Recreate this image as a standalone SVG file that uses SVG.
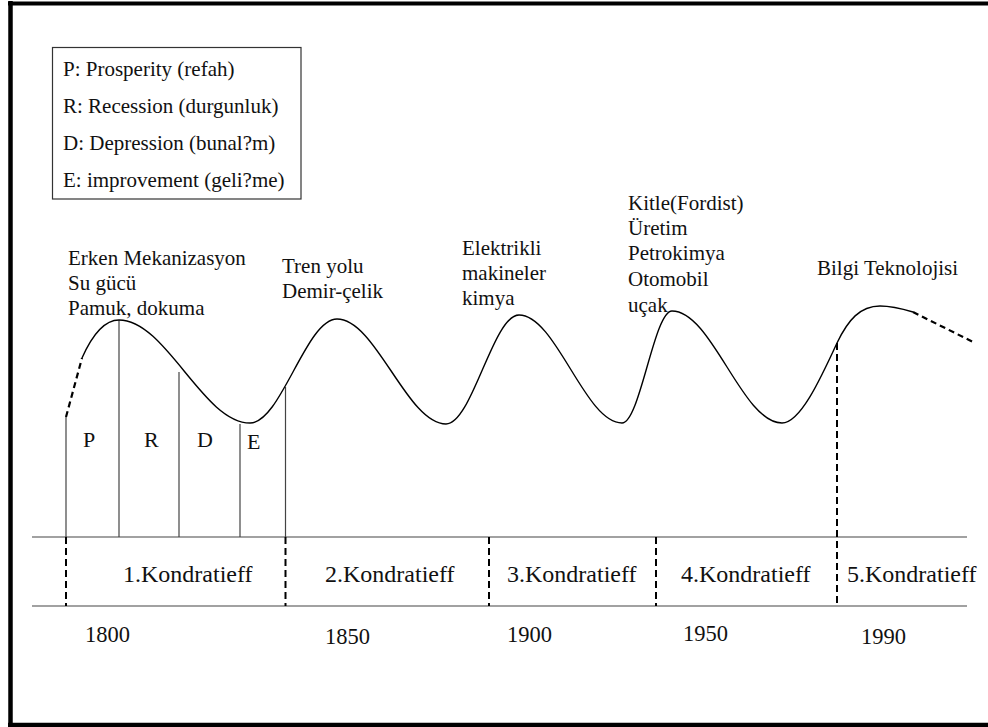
<svg xmlns="http://www.w3.org/2000/svg" width="988" height="727" viewBox="0 0 988 727">
  <style>
    .lbl { font-size: 21px; }
    .phase { font-size: 22px; }
    .wave { font-size: 24px; }
    .year { font-size: 22.5px; }
    .frame { stroke: #000; fill: none; }
    .thin { stroke: #444; stroke-width: 1.2; fill: none; }
    .dash { stroke: #000; stroke-width: 2; stroke-dasharray: 7 4; fill: none; }
    .curve { stroke: #000; stroke-width: 1.4; fill: none; }
    .curve-dash { stroke: #000; stroke-width: 2.2; stroke-dasharray: 6 4; fill: none; }
  </style>

  <rect x="0" y="0" width="988" height="727" fill="#fff"/>

  <!-- outer frame (left, top, bottom) -->
  <g id="frame">
    <line class="frame" x1="10.5" y1="1" x2="10.5" y2="727" stroke-width="4.5"/>
    <line class="frame" x1="8" y1="3.5" x2="988" y2="3.5" stroke-width="4"/>
    <line class="frame" x1="8" y1="725" x2="988" y2="725" stroke-width="4.5"/>
  </g>

  <g font-family="Liberation Serif, DejaVu Serif, serif" fill="#111">
  <!-- legend -->
  <g id="legend">
    <rect x="52.5" y="47.5" width="248.5" height="151.5" fill="#fff" stroke="#333" stroke-width="1.2"/>
    <text class="lbl" x="63" y="76">P: Prosperity (refah)</text>
    <text class="lbl" x="63" y="113">R: Recession (durgunluk)</text>
    <text class="lbl" x="63" y="150">D: Depression (bunal?m)</text>
    <text class="lbl" x="63" y="187">E: improvement (geli?me)</text>
  </g>

  <!-- phase letters -->
  <g id="phases">
    <text class="phase" x="83" y="447">P</text>
    <text class="phase" x="144" y="447">R</text>
    <text class="phase" x="197" y="447">D</text>
    <text class="phase" x="247" y="449">E</text>
  </g>

  <!-- technology labels per wave -->
  <g id="wave1-label">
    <text class="lbl" x="68" y="265">Erken Mekanizasyon</text>
    <text class="lbl" x="68" y="290">Su gücü</text>
    <text class="lbl" x="68" y="315">Pamuk, dokuma</text>
  </g>
  <g id="wave2-label">
    <text class="lbl" x="282" y="273">Tren yolu</text>
    <text class="lbl" x="282" y="298">Demir-çelik</text>
  </g>
  <g id="wave3-label">
    <text class="lbl" x="462" y="255">Elektrikli</text>
    <text class="lbl" x="462" y="280">makineler</text>
    <text class="lbl" x="462" y="305">kimya</text>
  </g>
  <g id="wave4-label">
    <text class="lbl" x="628" y="210">Kitle(Fordist)</text>
    <text class="lbl" x="628" y="235">Üretim</text>
    <text class="lbl" x="628" y="260">Petrokimya</text>
    <text class="lbl" x="628" y="286">Otomobil</text>
    <text class="lbl" x="628" y="312">uçak</text>
  </g>
  <g id="wave5-label">
    <text class="lbl" x="817" y="275">Bilgi Teknolojisi</text>
  </g>

  <!-- wave names -->
  <g id="k1"><text class="wave" x="123" y="582">1.Kondratieff</text></g>
  <g id="k2"><text class="wave" x="325" y="582">2.Kondratieff</text></g>
  <g id="k3"><text class="wave" x="507" y="582">3.Kondratieff</text></g>
  <g id="k4"><text class="wave" x="681" y="582">4.Kondratieff</text></g>
  <g id="k5"><text class="wave" x="847" y="582">5.Kondratieff</text></g>

  <!-- years -->
  <g id="years">
    <text class="year" x="85" y="642">1800</text>
    <text class="year" x="325" y="644">1850</text>
    <text class="year" x="507" y="642">1900</text>
    <text class="year" x="683" y="641">1950</text>
    <text class="year" x="861" y="644">1990</text>
  </g>
  </g>

  <!-- connectors: time axis, phase dividers, wave curve -->
  <g id="connectors">
    <line class="thin" x1="32" y1="537" x2="967" y2="537"/>
    <line class="thin" x1="32" y1="606" x2="967" y2="606"/>

    <!-- phase dividers of the first wave -->
    <line class="thin" x1="66" y1="417" x2="66" y2="537"/>
    <line class="thin" x1="119" y1="320" x2="119" y2="537"/>
    <line class="thin" x1="179" y1="372" x2="179" y2="537"/>
    <line class="thin" x1="240" y1="424" x2="240" y2="537"/>
    <line class="thin" x1="285.5" y1="387" x2="285.5" y2="537"/>

    <!-- wave boundaries on the axis band -->
    <line class="dash" x1="66" y1="537" x2="66" y2="606"/>
    <line class="dash" x1="285.5" y1="537" x2="285.5" y2="606"/>
    <line class="dash" x1="489" y1="537" x2="489" y2="606"/>
    <line class="dash" x1="656" y1="537" x2="656" y2="606"/>
    <line class="dash" x1="837" y1="343" x2="837" y2="606"/>

    <!-- long wave -->
    <path class="curve-dash" d="M66,417 L82,358"/>
    <path class="curve" d="M82,358 C90,340 102,320 119,320
      C166,320 203,423 250,423
      C281,423 306,319 337,319
      C376,319 407,424 446,424
      C472,424 493,315 519,315
      C556,315 585,423 622,423
      C640,423 654,311 672,311
      C712,311 742,423 782,423
      C800,423 820,380 837,343
      C848,320 860,306 880,306
      C893,306 903,309 913,312"/>
    <path class="curve-dash" d="M913,312 L973,342"/>
  </g>
</svg>
